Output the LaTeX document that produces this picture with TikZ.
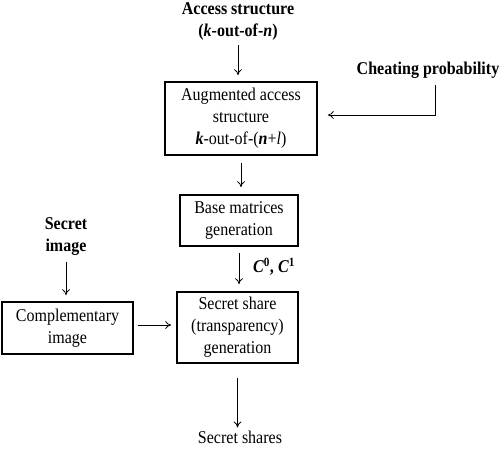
\documentclass[tikz,border=0pt]{standalone}
\usepackage{fontspec}
\setmainfont{Liberation Serif}[FakeStretch=0.89]
\usetikzlibrary{arrows.meta,calc}
\begin{document}
\begin{tikzpicture}[x=1pt,y=-1pt,
  every node/.style={font=\fontsize{18}{22}\selectfont, align=center, inner sep=0pt},
  box/.style={draw, line width=1.6pt},
  arr/.style={-{To[length=6pt,width=8pt]}, line width=0.8pt}]
\useasboundingbox (0,0) rectangle (504,449);
\node (access) at (238,21) {\textbf{Access structure}\\\textbf{(\textit{k}-out-of-\textit{n})}};
\node[box, minimum height=73pt, minimum width=152pt] (aug) at (241,118.5) {Augmented access\\structure\\\textbf{\textit{k}}-out-of-(\textbf{\textit{n}}+\textit{l})};
\node (cheat) at (428,70) {\textbf{Cheating probability}};
\node[box, minimum height=51pt, minimum width=118pt] (base) at (239,220.5) {Base matrices\\generation};
\node[box, minimum height=71pt, minimum width=121pt] (share) at (237.5,327.5) {Secret share\\(transparency)\\generation};
\node (simg) at (66,237) {\textbf{Secret}\\\textbf{image}};
\node[box, minimum height=52pt, minimum width=131pt] (comp) at (67.5,328) {Complementary\\image};
\node (shares) at (240,437) {Secret shares};
\node (clabel) at (274,267) {\textbf{\textit{C}\textsuperscript{0}, \textit{C}\textsuperscript{1}}};
\draw[arr] ([yshift=-5pt]access.south) -- ([yshift=6pt]access.south |- aug.north);
\draw[arr] ([xshift=7pt,yshift=-7pt]cheat.south) |- ([xshift=10pt,yshift=3.5pt]aug.east);
\draw[arr] ([yshift=-7pt]aug.south) -- ([yshift=7pt]aug.south |- base.north);
\draw[arr] ([yshift=-6pt]base.south) -- ([yshift=7pt]base.south |- share.north);
\draw[arr] ([yshift=-6pt]simg.south) -- ([yshift=6pt]simg.south |- comp.north);
\draw[arr] ([xshift=4pt,yshift=3pt]comp.east) -- ([xshift=-5pt,yshift=3pt]comp.east -| share.west);
\draw[arr] ([yshift=-14pt]share.south) -- ([yshift=3pt]share.south |- shares.north);
\end{tikzpicture}
\end{document}
